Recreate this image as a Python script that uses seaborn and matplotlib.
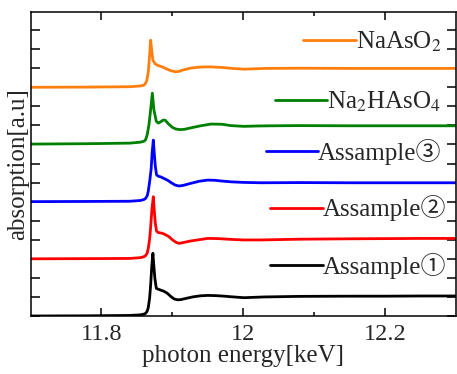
import numpy as np
import pandas as pd
import matplotlib
matplotlib.use("Agg")
import matplotlib.pyplot as plt
import seaborn as sns
from matplotlib.legend import Legend

# ---------------- data ----------------
E_black = [11.70, 11.78, 11.84, 11.855, 11.8600, 11.8623, 11.8645, 11.8661, 11.8680, 11.8694,
           11.8710, 11.8726, 11.8740, 11.8754, 11.8774, 11.8805, 11.8835, 11.8880, 11.8930, 11.8980,
           11.9023, 11.9070, 11.9120, 11.9200, 11.9300, 11.9400, 11.9500, 11.9600, 11.9700, 11.9826,
           12.001, 12.015, 12.03, 12.08, 12.15, 12.20, 12.25, 12.30]
A_black = [0.00, 0.01, 0.03, 0.06, 0.10, 0.14, 0.25, 0.45, 0.95, 1.62,
           2.60, 3.29, 2.60, 1.97, 1.45, 1.40, 1.36, 1.30, 1.19, 1.02,
           0.90, 0.85, 0.86, 0.93, 1.01, 1.06, 1.08, 1.07, 1.05, 1.01,
           0.96, 0.98, 1.00, 1.03, 1.04, 1.04, 1.05, 1.05]

E_red = [11.70, 11.78, 11.84, 11.855, 11.8599, 11.8623, 11.8645, 11.8661, 11.8680, 11.8694,
         11.8712, 11.8732, 11.8745, 11.8760, 11.8778, 11.8800, 11.8859, 11.8900, 11.8953, 11.9000,
         11.9050, 11.9094, 11.9150, 11.9250, 11.9355, 11.9496, 11.9650, 11.9826, 12.000, 12.025,
         12.08, 12.15, 12.20, 12.25, 12.30]
A_red = [0.00, 0.01, 0.02, 0.06, 0.11, 0.17, 0.30, 0.55, 1.05, 1.65,
         2.60, 3.26, 2.55, 1.85, 1.45, 1.38, 1.34, 1.27, 1.16, 1.00,
         0.87, 0.81, 0.85, 0.93, 0.99, 1.07, 1.06, 1.02, 0.99, 0.99,
         1.03, 1.05, 1.06, 1.07, 1.07]

E_blue = [11.70, 11.78, 11.84, 11.855, 11.8599, 11.8623, 11.8645, 11.8661, 11.8680, 11.8701,
          11.8716, 11.8732, 11.8745, 11.8760, 11.8778, 11.8805, 11.8835, 11.8880, 11.8930, 11.8990,
          11.9040, 11.9094, 11.9150, 11.9260, 11.9380, 11.9496, 11.9600, 11.9700, 11.9826, 12.000,
          12.025, 12.08, 12.15, 12.20, 12.25, 12.30]
A_blue = [0.00, 0.01, 0.02, 0.06, 0.11, 0.17, 0.30, 0.55, 1.05, 1.70,
          2.60, 3.23, 2.55, 1.85, 1.40, 1.33, 1.30, 1.22, 1.13, 0.98,
          0.87, 0.82, 0.85, 0.96, 1.07, 1.13, 1.12, 1.08, 1.04, 1.01,
          0.99, 1.00, 0.99, 0.99, 0.99, 0.99]

E_green = [11.70, 11.78, 11.84, 11.855, 11.8600, 11.8623, 11.8645, 11.8670, 11.8695, 11.8718,
           11.8740, 11.8774, 11.8803, 11.8840, 11.8870, 11.8900, 11.8953, 11.9000, 11.9050, 11.9100,
           11.9165, 11.9260, 11.9400, 11.9543, 11.9700, 11.9826, 12.001, 12.020, 12.040, 12.08,
           12.15, 12.20, 12.25, 12.30]
A_green = [0.02, 0.04, 0.07, 0.12, 0.17, 0.25, 0.50, 1.03, 1.85, 2.69,
           1.82, 1.21, 1.12, 1.20, 1.28, 1.27, 1.05, 0.90, 0.81, 0.78,
           0.79, 0.87, 0.98, 1.07, 1.06, 0.99, 0.95, 0.97, 0.98, 0.99,
           0.98, 0.98, 0.98, 0.98]

E_orange = [11.70, 11.78, 11.84, 11.855, 11.8599, 11.8620, 11.8640, 11.8661, 11.8678, 11.8694,
            11.8710, 11.8726, 11.8760, 11.8788, 11.8850, 11.8906, 11.8970, 11.9047, 11.9100, 11.9142,
            11.9250, 11.9355, 11.9450, 11.9543, 11.9700, 11.9850, 12.001, 12.015, 12.030, 12.08,
            12.15, 12.20, 12.25, 12.30]
A_orange = [0.00, 0.01, 0.03, 0.07, 0.11, 0.20, 0.35, 0.81, 1.60, 2.47,
            1.90, 1.42, 1.22, 1.16, 1.08, 0.99, 0.88, 0.81, 0.84, 0.90,
            1.00, 1.05, 1.07, 1.07, 1.04, 0.99, 0.95, 0.97, 0.99, 1.00,
            0.99, 0.99, 0.99, 0.99]

labels = ["Assample\u2460", "Assample\u2461", "Assample\u2462",
          "Na$_2$HAsO$_4$", "NaAsO$_2$"]
offsets = [0, 3, 6, 9, 12]
colors = ["black", "red", "blue", "green", "#ff7f0e"]

x_ticks = [11.8, 12.0, 12.2]
x_ticklabels = ["11.8", "12", "12.2"]
x_minor = [11.9, 12.1]

# ---------------- style ----------------
sns.set_style("ticks")
plt.rcParams["font.family"] = ["Liberation Serif", "Noto Sans CJK JP"]
plt.rcParams["mathtext.fontset"] = "stix"

fig = plt.figure(figsize=(4.57, 3.74), dpi=100)
ax = fig.add_axes([30.5 / 457, 58 / 374, 425.5 / 457, 304 / 374])

Es = [E_black, E_red, E_blue, E_green, E_orange]
As = [A_black, A_red, A_blue, A_green, A_orange]
for E, A, off, c in zip(Es, As, offsets, colors):
    df = pd.DataFrame({"E": E, "A": np.asarray(A) + off})
    sns.lineplot(data=df, x="E", y="A", color=c, lw=2.0, ax=ax,
                 estimator=None, sort=False, legend=False)

ax.set_xlim(11.7, 12.3)
ax.set_ylim(0, 15.95)
ax.set_xticks(x_ticks)
ax.set_xticklabels(x_ticklabels)
ax.set_xticks(x_minor, minor=True)
ax.set_yticks(range(0, 16))
ax.tick_params(axis="y", labelleft=False)
ax.tick_params(axis="both", which="both", direction="in", top=True, right=True,
               color="black", width=1.1)
ax.tick_params(axis="x", which="major", length=5.5, pad=6, labelsize=17.5)
ax.tick_params(axis="x", which="minor", length=2.8)
ax.tick_params(axis="y", which="major", length=6.5)
for s in ax.spines.values():
    s.set_color("black")
    s.set_linewidth(1.1)

ax.set_xlabel("photon energy[keV]", fontsize=18)
ax.set_ylabel("absorption[a.u]", fontsize=18)
ax.xaxis.set_label_coords(0.5, -0.095)
ax.yaxis.set_label_coords(-0.004, 0.5)

# legend entries, one per curve, right-aligned
anchors_x = [0.977, 0.977, 0.966, 0.966, 0.966]
anchors_y = [0.164, 0.354, 0.540, 0.705, 0.902]
lines = ax.get_lines()
for line, lab, xx, yy in zip(lines, labels, anchors_x, anchors_y):
    leg = Legend(ax, [line], [lab], loc="center right", bbox_to_anchor=(xx, yy),
                 frameon=False, handlelength=2.1, handletextpad=0.0, borderpad=0,
                 borderaxespad=0, fontsize=18)
    ax.add_artist(leg)

fig.savefig("out.png", dpi=100)
